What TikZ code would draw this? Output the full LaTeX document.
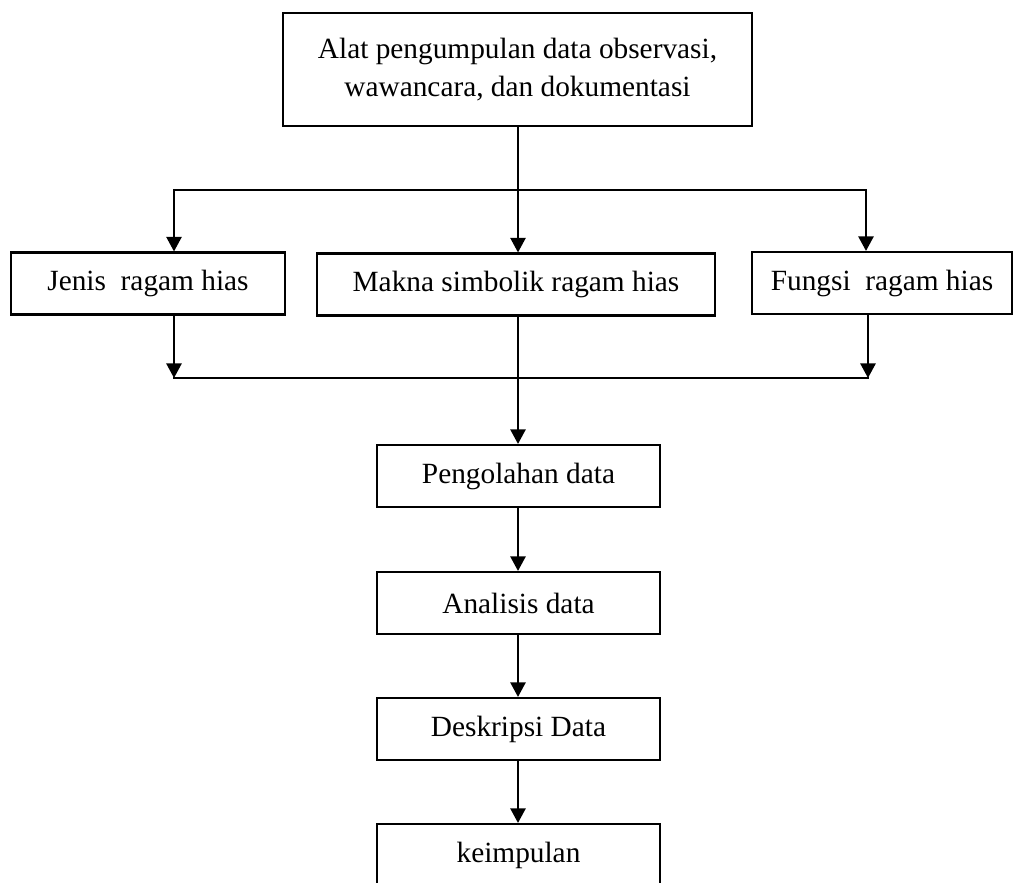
\documentclass[tikz,border=0pt]{standalone}
\usepackage{fontspec}
\setmainfont{Liberation Serif}
\usetikzlibrary{arrows.meta}
\begin{document}
\begin{tikzpicture}[x=0.75pt,y=-0.75pt,
  box/.style={draw, line width=1.6pt, minimum height=46.5pt, inner sep=0pt,
    font=\fontsize{22pt}{29pt}\selectfont, align=center},
  link/.style={line width=1.4pt, line cap=rect},
  arr/.style={line width=1.4pt, -{Triangle[width=11.5pt,length=11pt]}}]
\useasboundingbox (0,0) rectangle (1014,882);
\clip (0,0) rectangle (1014,882);
% nodes
\node[box, minimum width=351.75pt, minimum height=84.75pt] (top) at (517.5,69.5)
  {Alat pengumpulan data observasi,\\wawancara, dan dokumentasi};
\node[box, minimum width=205.5pt] (jenis) at (148,283.5) {Jenis\ \ ragam hias};
\node[box, minimum width=298.5pt] (makna) at (516,284.5) {Makna simbolik ragam hias};
\node[box, minimum width=195pt] (fungsi) at (882,283) {Fungsi\ \ ragam hias};
\node[box, minimum width=212.25pt] (olah) at (518.5,476) {Pengolahan data};
\node[box, minimum width=212.25pt] (anal) at (518.5,603) {Analisis data};
\node[box, minimum width=212.25pt] (desk) at (518.5,729) {Deskripsi Data};
\node[box, minimum width=212.25pt, minimum height=46.5pt] (kes) at (518.5,855) {keimpulan};
% coordinates
\coordinate (mx) at (518,0);
\coordinate (tl) at (174,190);
\coordinate (tr) at (866,190);
\coordinate (bl) at (174,378);
\coordinate (br) at (868,378);
% connectors
\draw[arr] (top.south -| mx) -- (makna.north -| mx);
\draw[link] (tl) -- (tr);
\draw[arr] (tl) -- (jenis.north -| tl);
\draw[arr] (tr) -- (fungsi.north -| tr);
\draw[arr] (jenis.south -| bl) -- (bl);
\draw[arr] (fungsi.south -| br) -- (br);
\draw[link] (bl) -- (br);
\draw[arr] (makna.south -| mx) -- (olah.north -| mx);
\draw[arr] (olah.south -| mx) -- (anal.north -| mx);
\draw[arr] (anal.south -| mx) -- (desk.north -| mx);
\draw[arr] (desk.south -| mx) -- (kes.north -| mx);
\end{tikzpicture}
\end{document}
